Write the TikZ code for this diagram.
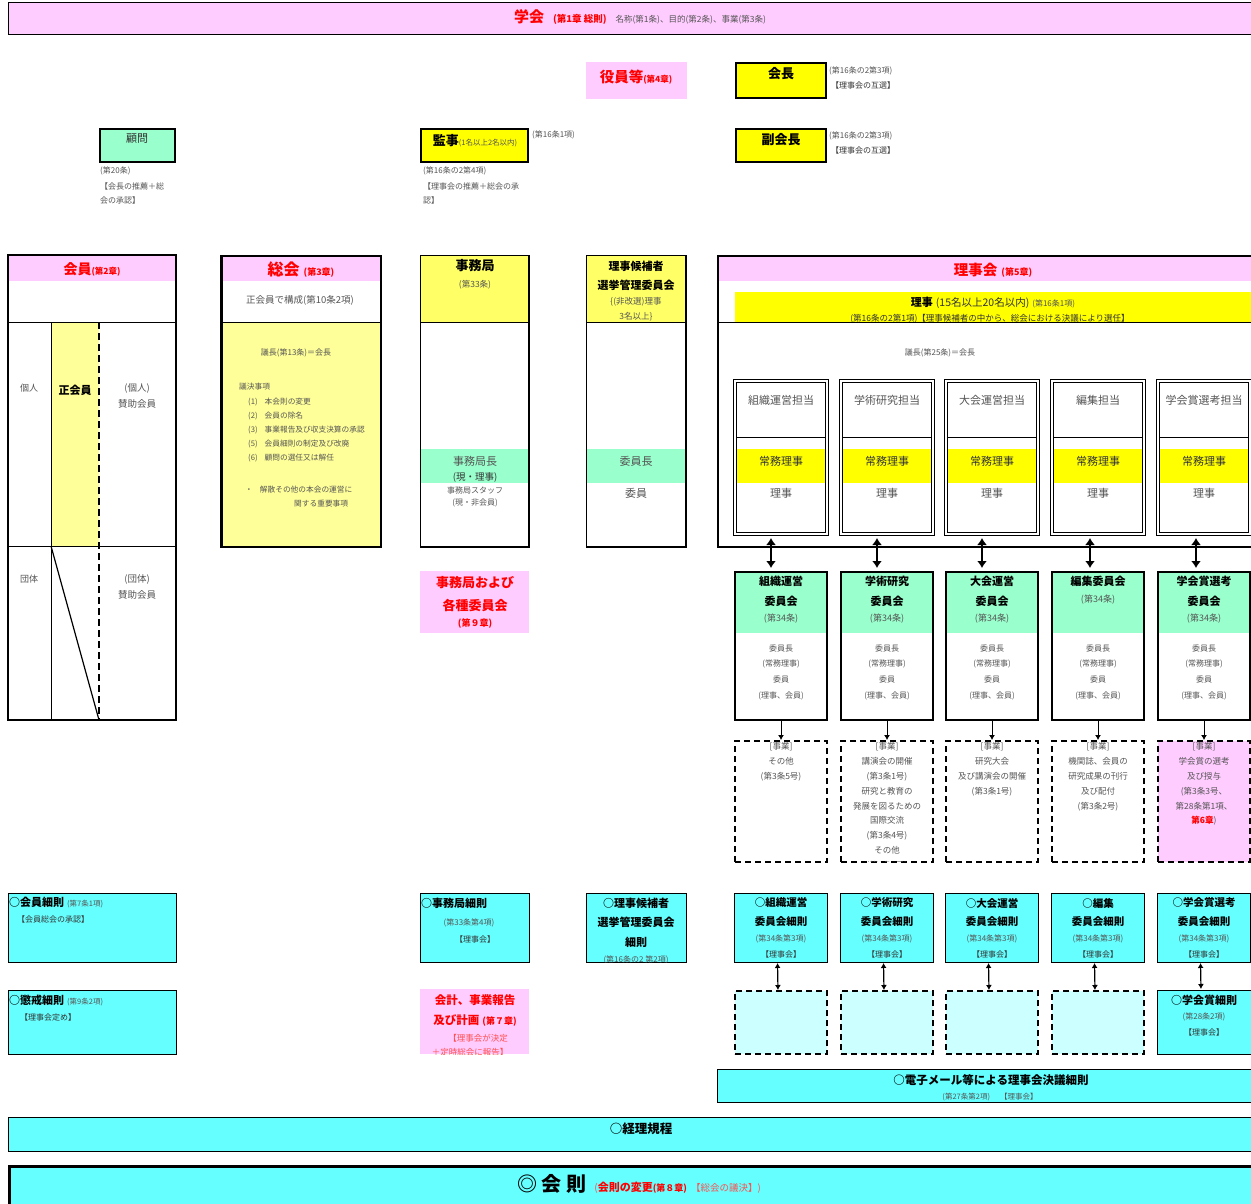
\documentclass[tikz,border=0pt]{standalone}
\usepackage{fontspec}
\setmainfont{Noto Sans CJK JP}
\usetikzlibrary{arrows.meta}
\definecolor{pinkf}{HTML}{FFCCFF}
\definecolor{yel}{HTML}{FFFF00}
\definecolor{ylt}{HTML}{FFFF99}
\definecolor{ymd}{HTML}{FFFF66}
\definecolor{grn}{HTML}{99FFCC}
\definecolor{cyn}{HTML}{66FFFF}
\definecolor{lcyn}{HTML}{CCFFFF}
\definecolor{gtx}{HTML}{555555}
\definecolor{dtx}{HTML}{333333}
\definecolor{red1}{HTML}{FF0000}
\definecolor{red2}{HTML}{FF5050}
\newcommand\fsz[1]{\fontsize{#1}{#1}\selectfont}
\tikzset{
  lbl/.style={inner sep=0pt, text=gtx, font=\fsz{8}},
  mtx/.style={inner sep=0pt, text=gtx, font=\fsz{11}},
  btx/.style={inner sep=0pt, text=black, font=\fsz{11}\bfseries},
  rtx/.style={inner sep=0pt, text=red1, font=\fsz{13}\bfseries},
  mline/.style={inner sep=0pt, align=center, anchor=north, text=gtx},
  boxn/.style={anchor=north west, inner sep=0pt, outer sep=0pt},
  thickbox/.style={boxn, draw=black, line width=2.5pt},
  rulebox/.style={boxn, draw=black, line width=1pt, fill=cyn},
  dashbox/.style={boxn, draw=black, line width=1.8pt, dash pattern=on 6pt off 4pt},
  dblbox/.style={boxn, draw=black, double, double distance=1.4pt, line width=1pt},
  bigarr/.style={{Latex[length=7pt,width=10pt]}-{Latex[length=7pt,width=10pt]}, line width=2.2pt},
  smarr/.style={{Latex[length=5pt,width=6pt]}-{Latex[length=5pt,width=6pt]}, line width=1.2pt},
  downarr/.style={-{Latex[length=5pt,width=6pt]}, line width=1pt},
}
\begin{document}
\begin{tikzpicture}[x=1pt,y=-1pt]
\useasboundingbox (0,0) rectangle (1251,1204);
\fill[white] (0,0) rectangle (1251,1204);
\clip (0,0) rectangle (1251,1204);

% ---------- banner
\node[boxn, draw=black, line width=1.5pt, fill=pinkf, minimum width=1250, minimum height=32] (gakkai) at (8.5,2.5) {};
\node[inner sep=0pt] (gakkaiT) at (640,17) {\textcolor{red1}{\fsz{15}\bfseries 学会}\hspace{9pt}\textcolor{red1}{\fsz{9.5}\bfseries (第1章 総則)}\hspace{9pt}\textcolor{gtx}{\fsz{8.5}名称(第1条)、目的(第2条)、事業(第3条)}};

% ---------- officers
\node[boxn, fill=pinkf, minimum width=101, minimum height=37] (yakuin) at (586,62) {};
\node[inner sep=0pt] (yakuinT) at (636,77) {\textcolor{red1}{\fsz{14.5}\bfseries 役員等}\textcolor{red1}{\fsz{8.5}\bfseries (第4章)}};

\node[thickbox, fill=yel, minimum width=90, minimum height=35] (kaicho) at (736,63) {};
\node[btx, font=\fsz{13}\bfseries] (kaichoT) at (781,74) {会長};
\node[lbl, anchor=west] (kaichoA) at (829,71) {(第16条の2第3項)};
\node[lbl, anchor=west, text=dtx] (kaichoB) at (831,85) {【理事会の互選】};

\node[thickbox, fill=yel, minimum width=90, minimum height=33] (fuku) at (736,129) {};
\node[btx, font=\fsz{13}\bfseries] (fukuT) at (781,140) {副会長};
\node[lbl, anchor=west] (fukuA) at (829,136) {(第16条の2第3項)};
\node[lbl, anchor=west, text=dtx] (fukuB) at (831,150) {【理事会の互選】};

\node[thickbox, fill=grn, minimum width=75, minimum height=33] (komon) at (100,129) {};
\node[inner sep=0pt, text=dtx, font=\fsz{11}] (komonT) at (137,139) {顧問};
\node[lbl, anchor=west] (komonA) at (100,171) {(第20条)};
\node[lbl, anchor=west] (komonB) at (100,186) {【会長の推薦＋総};
\node[lbl, anchor=west] (komonC) at (100,200) {会の承認】};

\node[thickbox, fill=yel, minimum width=107, minimum height=33] (kanji) at (421,129) {};
\node[inner sep=0pt] (kanjiT) at (475,141) {{\fsz{13}\bfseries 監事}\textcolor{gtx}{\fsz{7.5}(1名以上2名以内)}};
\node[lbl, anchor=west] (kanjiA) at (532,135) {(第16条1項)};
\node[lbl, anchor=west] (kanjiB) at (423,171) {(第16条の2第4項)};
\node[lbl, anchor=west] (kanjiC) at (423,186) {【理事会の推薦＋総会の承};
\node[lbl, anchor=west] (kanjiD) at (423,200) {認】};

% ---------- members
\fill[pinkf] (8,255) rectangle (176,281);
\fill[ylt] (51,322) rectangle (99,546);
\draw[line width=1pt] (8,322) -- (176,322);
\draw[line width=1pt] (8,546) -- (176,546);
\draw[line width=1pt] (51,322) -- (51,720);
\draw[line width=1.8pt, dash pattern=on 7pt off 4pt] (99,322) -- (99,720);
\draw[line width=1.2pt] (51,546) -- (99,720);
\draw[line width=1.6pt] (8,255) rectangle (176,720);
\node[inner sep=0pt] (kaiinT) at (92,269) {\textcolor{red1}{\fsz{14}\bfseries 会員}\textcolor{red1}{\fsz{8.5}\bfseries (第2章)}};
\node[inner sep=0pt, text=gtx, font=\fsz{9}] (kojin) at (29,388) {個人};
\node[btx] (seikai) at (75,390) {正会員};
\node[mline, font=\fontsize{9.5}{16}\selectfont] (kojinS) at (137,383) {(個人)\\賛助会員};
\node[inner sep=0pt, text=gtx, font=\fsz{9}] (dantai) at (29,579) {団体};
\node[mline, font=\fontsize{9.5}{16}\selectfont] (dantaiS) at (137,574) {(団体)\\賛助会員};

% ---------- general assembly
\fill[pinkf] (220,255) rectangle (382,281);
\fill[ylt] (220,322) rectangle (382,547);
\draw[line width=1pt] (220,322) -- (382,322);
\draw[line width=2.8pt] (221.5,256) rectangle (381,547);
\node[inner sep=0pt] (sokaiT) at (301,270) {\textcolor{red1}{\fsz{16}\bfseries 総会}\hspace{4pt}\textcolor{red1}{\fsz{9}\bfseries (第3章)}};
\node[inner sep=0pt, text=gtx, font=\fsz{9.5}] (sokaiA) at (300,300) {正会員で構成(第10条2項)};
\node[lbl] (sokaiB) at (296,353) {議長(第13条)＝会長};
\node[lbl, anchor=west, font=\fsz{7.7}] (sokaiC) at (239,387) {議決事項};
\node[lbl, anchor=west, font=\fsz{7.7}] (sokai1) at (248,402) {(1)\hspace{7pt}本会則の変更};
\node[lbl, anchor=west, font=\fsz{7.7}] (sokai2) at (248,416) {(2)\hspace{7pt}会員の除名};
\node[lbl, anchor=west, font=\fsz{7.7}] (sokai3) at (248,430) {(3)\hspace{7pt}事業報告及び収支決算の承認};
\node[lbl, anchor=west, font=\fsz{7.7}] (sokai5) at (248,444) {(5)\hspace{7pt}会員細則の制定及び改廃};
\node[lbl, anchor=west, font=\fsz{7.7}] (sokai6) at (248,458) {(6)\hspace{7pt}顧問の選任又は解任};
\node[lbl, anchor=west, font=\fsz{7.7}] (sokaiD) at (245,490) {・\hspace{7pt}解散その他の本会の運営に};
\node[lbl, anchor=west, font=\fsz{7.7}] (sokaiE) at (294,504) {関する重要事項};

% ---------- secretariat
\fill[ymd] (420,255) rectangle (529,322);
\fill[grn] (420,449) rectangle (529,483);
\draw[line width=1pt] (420,322) -- (529,322);
\draw[line width=1.6pt] (420.5,255.5) rectangle (529,547);
\node[btx, font=\fsz{13}\bfseries] (jimuT) at (475,266) {事務局};
\node[inner sep=0pt, text=gtx, font=\fsz{8.5}] (jimuA) at (475,285) {(第33条)};
\node[mtx] (jimuB) at (475,461) {事務局長};
\node[inner sep=0pt, text=dtx, font=\fsz{9.5}] (jimuC) at (475,477) {(現・理事)};
\node[lbl] (jimuD) at (475,490) {事務局スタッフ};
\node[lbl] (jimuE) at (475,503) {(現・非会員)};

% ---------- election committee
\fill[ymd] (586,255) rectangle (686,322);
\fill[grn] (586,449) rectangle (686,483);
\draw[line width=1pt] (586,322) -- (686,322);
\draw[line width=1.6pt] (586.5,255.5) rectangle (686,547);
\node[btx] (senT1) at (636,266) {理事候補者};
\node[btx] (senT2) at (636,285) {選挙管理委員会};
\node[lbl, font=\fsz{8.5}] (senA) at (636,302) {\{(非改選)理事};
\node[lbl, font=\fsz{8.5}] (senB) at (636,317) {3名以上\}};
\node[mtx] (senC) at (636,461) {委員長};
\node[mtx] (senD) at (636,493) {委員};

% ---------- chapter 9 label
\node[boxn, fill=pinkf, minimum width=109, minimum height=62] (ch9) at (420,571) {};
\node[rtx] (ch9a) at (475,583) {事務局および};
\node[rtx] (ch9b) at (475,605) {各種委員会};
\node[inner sep=0pt, text=red1, font=\fsz{9}\bfseries] (ch9c) at (475,624) {(第９章)};

% ---------- board
\fill[pinkf] (717,255) rectangle (1256,281);
\fill[yel] (735,292) rectangle (1256,322);
\node[inner sep=0pt] (rijikaiT) at (993,270) {\textcolor{red1}{\fsz{14.5}\bfseries 理事会}\hspace{4pt}\textcolor{red1}{\fsz{9}\bfseries (第5章)}};
\node[inner sep=0pt] (rijiT) at (993,303) {{\fsz{11}\bfseries 理事}\hspace{3pt}\textcolor{dtx}{\fsz{10.5}(15名以上20名以内)}\hspace{3pt}\textcolor{gtx}{\fsz{8}(第16条1項)}};
\begin{scope}
\clip (735,292) rectangle (1256,322);
\node[inner sep=0pt, text=dtx, font=\fsz{8.5}] (rijiA) at (990,319) {(第16条の2第1項)【理事候補者の中から、総会における決議により選任】};
\end{scope}
\draw[line width=1pt] (717,322) -- (1256,322);
\draw[line width=2.4pt] (718,256) rectangle (1262,547);
\node[lbl] (gichoR) at (940,353) {議長(第25条)＝会長};

% ---------- five columns
\foreach \i/\xl in {1/734,2/840,3/945,4/1051,5/1157} {
  \node[dblbox, minimum width=92, minimum height=153] (t\i) at (\xl+1,381) {};
  \fill[yel] (\xl+2.9,449) rectangle (\xl+91.1,483);
  \draw[line width=0.8pt] (\xl+2.5,437) -- (\xl+91.5,437);
  \fill[grn] (\xl+1,572) rectangle (\xl+93,633);
  \node[boxn, draw=black, line width=2pt, minimum width=92, minimum height=148] (c\i) at (\xl+1,572) {};
  \node[rulebox, minimum width=93, minimum height=69] (r\i) at (\xl,893) {};
}
\fill[pinkf] (1158,741) rectangle (1256,862);
\foreach \i/\xl in {1/734,2/840,3/945,4/1051,5/1157} {
  \node[dashbox, minimum width=92, minimum height=121] (j\i) at (\xl+1,741) {};
}
\foreach \i/\xl in {1/734,2/840,3/945,4/1051} {
  \node[dashbox, fill=lcyn, minimum width=92, minimum height=63] (e\i) at (\xl+1,991) {};
}
\node[rulebox, minimum width=94, minimum height=64] (e5) at (1157,990) {};

\foreach \i/\xc/\nm in {1/781/組織運営担当,2/887/学術研究担当,3/992/大会運営担当,4/1098/編集担当,5/1204/学会賞選考担当} {
  \node[mtx] (tt\i) at (\xc,400) {\nm};
  \node[mtx, text=dtx] (tj\i) at (\xc,461) {常務理事};
  \node[mtx] (tr\i) at (\xc,493) {理事};
  \node[mline, font=\fontsize{8}{15.7}\selectfont] (cb\i) at (\xc,644.3) {委員長\\(常務理事)\\委員\\(理事、会員)};
}
% committee headers
\node[btx] (c1a) at (781,581) {組織運営};
\node[btx] (c1b) at (781,601) {委員会};
\node[inner sep=0pt, text=gtx, font=\fsz{9}] (c1c) at (781,619) {(第34条)};
\node[btx] (c2a) at (887,581) {学術研究};
\node[btx] (c2b) at (887,601) {委員会};
\node[inner sep=0pt, text=gtx, font=\fsz{9}] (c2c) at (887,619) {(第34条)};
\node[btx] (c3a) at (992,581) {大会運営};
\node[btx] (c3b) at (992,601) {委員会};
\node[inner sep=0pt, text=gtx, font=\fsz{9}] (c3c) at (992,619) {(第34条)};
\node[btx] (c4a) at (1098,581) {編集委員会};
\node[inner sep=0pt, text=gtx, font=\fsz{9}] (c4c) at (1098,600) {(第34条)};
\node[btx] (c5a) at (1204,581) {学会賞選考};
\node[btx] (c5b) at (1204,601) {委員会};
\node[inner sep=0pt, text=gtx, font=\fsz{9}] (c5c) at (1204,619) {(第34条)};

% business texts
\tikzset{jtx/.style={mline, font=\fontsize{8.5}{14.8}\selectfont}}
\node[jtx] (jt1) at (781,742.5) {{[事業]}\\その他\\(第3条5号)};
\begin{scope}
\clip (841,741) rectangle (933,861);
\node[jtx] (jt2) at (887,742.5) {{[事業]}\\講演会の開催\\(第3条1号)\\研究と教育の\\発展を図るための\\国際交流\\(第3条4号)\\その他\\(第3条5号)};
\end{scope}
\node[jtx] (jt3) at (992,742.5) {{[事業]}\\研究大会\\及び講演会の開催\\(第3条1号)};
\node[jtx] (jt4) at (1098,742.5) {{[事業]}\\機関誌、会員の\\研究成果の刊行\\及び配付\\(第3条2号)};
\node[jtx] (jt5) at (1204,742.5) {{[事業]}\\学会賞の選考\\及び授与\\(第3条3号、\\第28条第1項、\\\textcolor{red1}{\bfseries 第6章})};

% connectors
\foreach \i in {1,2,3} {
  \draw[bigarr, shorten <=4pt, shorten >=4pt] ([xshift=-10pt]t\i.south) -- ([xshift=-10pt]c\i.north);
}
\foreach \i in {4,5} {
  \draw[bigarr, shorten <=4pt, shorten >=4pt] ([xshift=-8pt]t\i.south) -- ([xshift=-8pt]c\i.north);
}
\foreach \i in {1,...,5} {
  \draw[downarr, shorten >=1pt] (c\i.south) -- (j\i.north);
  \draw[smarr, shorten <=1pt, shorten >=1pt] ([xshift=-3pt]r\i.south) -- ([xshift=-3pt]e\i.north);
}

% committee rules text
\foreach \i/\xc/\nm in {1/781/○組織運営,2/887/○学術研究,3/992/○大会運営,4/1098/○編集,5/1204/○学会賞選考} {
  \node[btx, font=\fsz{10.5}\bfseries] (ra\i) at (\xc,903) {\nm};
  \node[btx, font=\fsz{10.5}\bfseries] (rb\i) at (\xc,922) {委員会細則};
  \node[lbl] (rc\i) at (\xc,939) {(第34条第3項)};
  \node[lbl, text=dtx] (rd\i) at (\xc,954) {【理事会】};
}
\node[btx] (e5a) at (1204,1000) {○学会賞細則};
\node[lbl] (e5b) at (1204,1017) {(第28条2項)};
\node[lbl, text=dtx] (e5c) at (1204,1032) {【理事会】};

% ---------- left rules
\node[rulebox, minimum width=168, minimum height=69] (kaiinR) at (8,893) {};
\node[inner sep=0pt, anchor=west] (kaiinRa) at (9,903) {{\fsz{11}\bfseries ○会員細則}\hspace{3pt}\textcolor{gtx}{\fsz{7.5}(第7条1項)}};
\node[lbl, anchor=west, text=dtx] (kaiinRb) at (17,919) {【会員総会の承認】};
\node[rulebox, minimum width=168, minimum height=64] (chokai) at (8,990) {};
\node[inner sep=0pt, anchor=west] (chokaiA) at (9,1001) {{\fsz{11}\bfseries ○懲戒細則}\hspace{3pt}\textcolor{gtx}{\fsz{7.5}(第9条2項)}};
\node[lbl, anchor=west, text=dtx] (chokaiB) at (20,1017) {【理事会定め】};

\node[rulebox, minimum width=109, minimum height=69] (jimuR) at (420,893) {};
\node[btx, anchor=west] (jimuRa) at (421,903) {○事務局細則};
\node[lbl] (jimuRb) at (469,923) {(第33条第4項)};
\node[lbl, text=dtx] (jimuRc) at (475,939) {【理事会】};

\node[rulebox, minimum width=100, minimum height=69] (senR) at (586,893) {};
\node[btx] (senRa) at (636,903) {○理事候補者};
\node[btx] (senRb) at (636,922) {選挙管理委員会};
\node[btx] (senRc) at (636,942) {細則};
\begin{scope}
\clip (586,893) rectangle (686,962);
\node[lbl] (senRd) at (636,959.5) {(第16条の2 第2項)};
\end{scope}

\node[boxn, fill=pinkf, minimum width=109, minimum height=65] (kaikei) at (420,989) {};
\node[rtx, font=\fsz{11.5}\bfseries] (kaikeiA) at (475,1000) {会計、事業報告};
\node[inner sep=0pt, text=red1] (kaikeiB) at (475,1020) {{\fsz{11.5}\bfseries 及び計画}\hspace{3pt}{\fsz{9}\bfseries (第７章)}};
\begin{scope}
\clip (420,989) rectangle (529,1054);
\node[inner sep=0pt, text=red2, font=\fsz{8.5}] (kaikeiC) at (478,1038) {【理事会が決定};
\node[inner sep=0pt, text=red2, font=\fsz{8.5}] (kaikeiD) at (470,1052.5) {＋定時総会に報告】};
\end{scope}

% ---------- bottom rules
\node[rulebox, line width=1.2pt, minimum width=540, minimum height=33] (email) at (717.5,1069.5) {};
\node[btx, font=\fsz{11.5}\bfseries] (emailA) at (991,1080) {○電子メール等による理事会決議細則};
\node[lbl, font=\fsz{7.5}] (emailB) at (990,1097) {(第27条第2項)\hspace{10pt}【理事会】};

\node[rulebox, line width=1.2pt, minimum width=1250, minimum height=34] (keiri) at (8.5,1117.5) {};
\node[btx, font=\fsz{12.5}\bfseries] (keiriA) at (641,1129) {○経理規程};

\node[boxn, draw=black, line width=3.5pt, fill=cyn, minimum width=1250, minimum height=50] (kaisoku) at (9.5,1166.5) {};
\node[inner sep=0pt] (kaisokuA) at (639,1184) {{\fsz{20}\bfseries ◎ 会 則}\hspace{8pt}\textcolor{red2}{\fsz{10}(}\textcolor{red1}{\fsz{11}\bfseries 会則の変更}\textcolor{red1}{\fsz{9}\bfseries (第８章)}\hspace{4pt}\textcolor{red2}{\fsz{9.5}【総会の議決】)}};
\end{tikzpicture}
\end{document}
